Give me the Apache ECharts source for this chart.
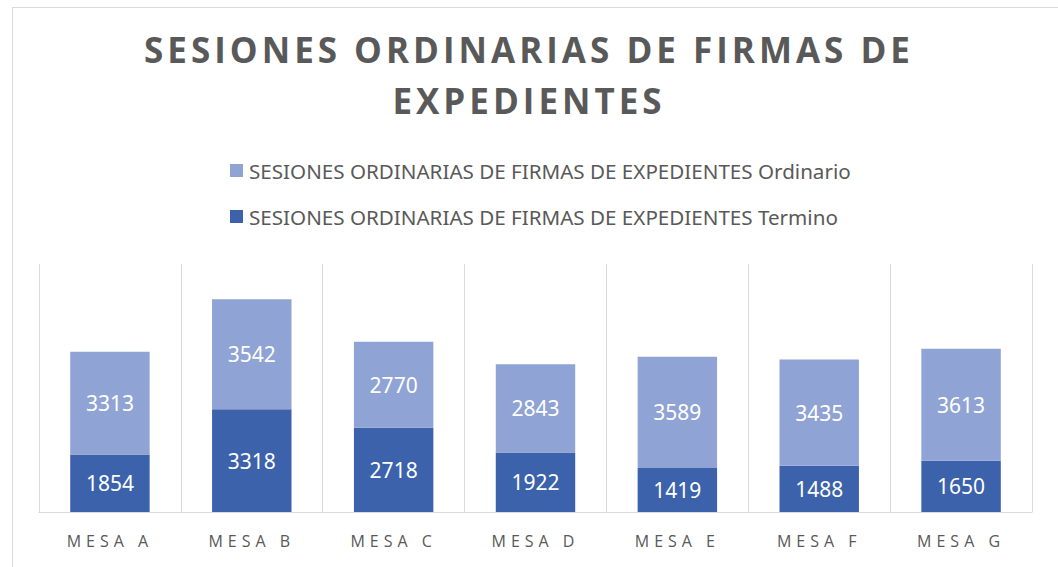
<!DOCTYPE html>
<html>
<head>
<meta charset="utf-8">
<script src="https://cdn.jsdelivr.net/npm/echarts@6/dist/echarts.min.js"></script>
<style>
  html, body { margin: 0; padding: 0; background: #fff; }
  #main { width: 1058px; height: 567px; }
  /* spaced caps like the original title and axis labels */
  #main text[style*="35px"] { letter-spacing: 4px; }
  #main text[style*="16px"] { letter-spacing: 5px; }
</style>
</head>
<body>
<div id="main"></div>
<script>
  // data
  const categories = ['MESA A', 'MESA B', 'MESA C', 'MESA D', 'MESA E', 'MESA F', 'MESA G'];
  const termino = [1854, 3318, 2718, 1922, 1419, 1488, 1650];
  const ordinario = [3313, 3542, 2770, 2843, 3589, 3435, 3613];
  const nameOrdinario = 'SESIONES ORDINARIAS DE FIRMAS DE EXPEDIENTES Ordinario';
  const nameTermino = 'SESIONES ORDINARIAS DE FIRMAS DE EXPEDIENTES Termino';

  const chart = echarts.init(document.getElementById('main'), null, { renderer: 'svg' });

  const labelStyle = {
    show: true,
    position: 'inside',
    color: '#ffffff',
    fontSize: 21,
    fontFamily: 'Noto Sans'
  };

  const option = {
    animation: false,
    backgroundColor: '#ffffff',
    graphic: [
      {
        type: 'rect',
        left: 10,
        top: 5,
        shape: { width: 1100, height: 600 },
        style: { fill: 'none', stroke: '#d9d9d9', lineWidth: 1 },
        silent: true
      }
    ],
    title: {
      text: 'SESIONES ORDINARIAS DE FIRMAS DE\nEXPEDIENTES',
      left: 'center',
      top: 19,
      textStyle: {
        color: '#595959',
        fontSize: 35,
        fontWeight: 'bold',
        fontFamily: 'Open Sans',
        lineHeight: 51
      }
    },
    legend: {
      orient: 'vertical',
      left: 225,
      top: 155,
      itemWidth: 13,
      itemHeight: 13,
      itemGap: 25,
      icon: 'rect',
      data: [nameOrdinario, nameTermino],
      textStyle: {
        color: '#595959',
        fontSize: 20.6,
        fontFamily: 'Noto Sans',
        padding: [0, 0, 0, 1]
      }
    },
    grid: {
      left: 39,
      right: 26,
      top: 264,
      bottom: 55,
      containLabel: false
    },
    xAxis: {
      type: 'category',
      data: categories,
      axisTick: { show: false },
      axisLine: { lineStyle: { color: '#d9d9d9', width: 1 } },
      splitLine: { show: true, lineStyle: { color: '#d9d9d9', width: 1 } },
      axisLabel: {
        color: '#595959',
        fontSize: 16,
        fontFamily: 'Open Sans',
        margin: 21
      }
    },
    yAxis: {
      type: 'value',
      min: 0,
      max: 8000,
      show: false,
      splitLine: { show: false }
    },
    series: [
      {
        name: nameTermino,
        type: 'bar',
        stack: 'total',
        barWidth: '56%',
        data: termino,
        itemStyle: { color: '#3b62ab' },
        label: labelStyle
      },
      {
        name: nameOrdinario,
        type: 'bar',
        stack: 'total',
        barWidth: '56%',
        data: ordinario,
        itemStyle: { color: '#8fa3d4' },
        label: labelStyle
      }
    ]
  };

  chart.setOption(option);
</script>
</body>
</html>
